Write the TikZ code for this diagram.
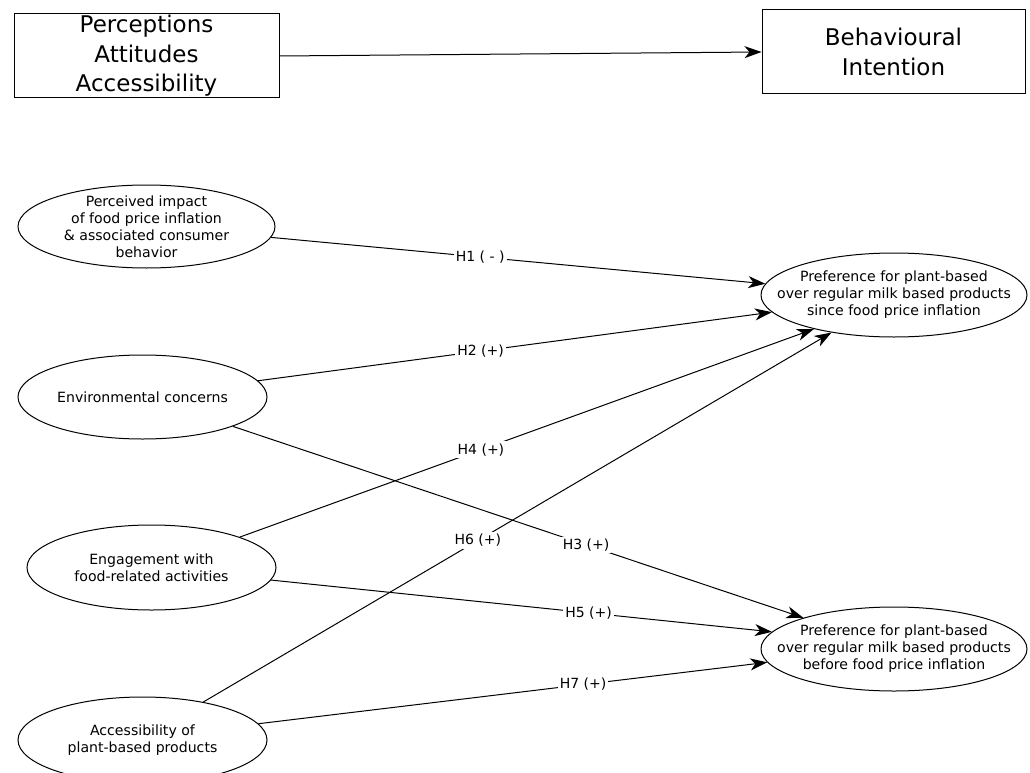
\documentclass[tikz,border=0pt]{standalone}
\usepackage{fontspec}
\setmainfont{DejaVu Sans}
\usetikzlibrary{shapes.geometric,arrows.meta}
\begin{document}
\begin{tikzpicture}[x=1pt,y=-1pt,
  line width=1pt,
  boxnode/.style={draw, rectangle, inner sep=0pt, align=center,
    font=\fontsize{23}{29.5}\selectfont},
  ell/.style={draw, ellipse, inner sep=0pt},
  ltxt/.style={align=center, inner sep=0pt, font=\fontsize{14.1}{16.9}\selectfont},
  hyp/.style={fill=white, inner sep=2pt, font=\fontsize{14}{16.8}\selectfont},
  arr/.style={-{Stealth[length=17pt,width=12pt,inset=5pt]}}
]
\useasboundingbox (0,0) rectangle (1030,773);

% top boxes
\node[boxnode, minimum width=265pt, minimum height=84pt] (b1) at (146.5,56)
  {Perceptions\\Attitudes\\Accessibility};
\node[boxnode, minimum width=263pt, minimum height=84pt] (b2) at (893.5,52)
  {Behavioural\\Intention};
\draw[arr] (b1.east) -- (b2.west);

% left ellipses
\node[ell, minimum width=257pt, minimum height=83pt,
  label={[ltxt]center:{Perceived impact\\of food price inflation\\\& associated consumer\\behavior}}]
  (e1) at (146.5,226.5) {};
\node[ell, minimum width=249pt, minimum height=84pt,
  label={[ltxt]center:{Environmental concerns}}]
  (e2) at (142.5,397) {};
\node[ell, minimum width=249pt, minimum height=85pt,
  label={[ltxt]center:{Engagement with\\food-related activities}}]
  (e3) at (151.5,567.5) {};
\node[ell, minimum width=249pt, minimum height=86pt,
  label={[ltxt]center:{Accessibility of\\plant-based products}}]
  (e4) at (142.5,740) {};

% right ellipses
\node[ell, minimum width=266pt, minimum height=84pt,
  label={[ltxt]center:{Preference for plant-based\\over regular milk based products\\since food price inflation}}]
  (r1) at (894,295) {};
\node[ell, minimum width=266pt, minimum height=84pt,
  label={[ltxt]center:{Preference for plant-based\\over regular milk based products\\before food price inflation}}]
  (r2) at (894,649) {};

% hypotheses
\draw[arr] (e1.-5) -- node[hyp, pos=0.423] {H1 ( - )} (r1.175);
\draw[arr] (e2.8) -- node[hyp, pos=0.433] {H2 (+)} (r1.188);
\draw[arr] (e3.19.4) -- node[hyp, pos=0.42] {H4 (+)} (r1.203);
\draw[arr] (e4.32) -- node[hyp, pos=0.437] {H6 (+)} (r1.211);
\draw[arr] (e2.-18.5) -- node[hyp, pos=0.619] {H3 (+)} (r2.161.2);
\draw[arr] (e3.-6) -- node[hyp, pos=0.634] {H5 (+)} (r2.172.8);
\draw[arr] (e4.8.2) -- node[hyp, pos=0.638] {H7 (+)} (r2.186.4);
\end{tikzpicture}
\end{document}
